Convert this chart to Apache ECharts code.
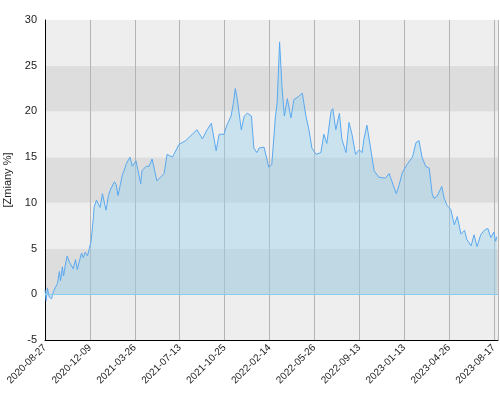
<!DOCTYPE html><html><head><meta charset="utf-8">
<script src="https://cdn.jsdelivr.net/npm/echarts@6/dist/echarts.min.js"></script>
<style>html,body{margin:0;padding:0;background:#fff}#c{width:500px;height:400px}</style></head><body><div id="c"></div>
<script>
const tickLabels=['2020-08-27','2020-12-09','2021-03-26','2021-07-13','2021-10-25','2022-02-14','2022-05-26','2022-09-13','2023-01-13','2023-04-26','2023-08-17'];
const days=[0,2,4,7,11,14,17,21,24,26,29,31,34,37,41,44,47,51,54,57,61,64,67,71,74,77,81,82,86,89,92,96,99,102,106,109,112,116,119,122,126,129,132,136,139,142,146,152,160,162,169,174,179,187,199,204,213,224,235,246,254,263,271,278,286,291,299,304,311,315,318,321,328,333,338,345,349,354,358,366,374,379,385,388,392,396,400,405,411,416,423,430,436,441,446,453,461,466,471,478,481,486,492,496,503,508,513,519,525,530,533,538,544,550,558,569,575,580,587,592,597,605,614,620,625,630,636,642,647,650,655,663,667,672,678,684,689,695,701,705,712,717,722,728,734,740,745,750,753,755];
const values=[0.5,-0.7,0.7,-0.3,-0.5,0.3,0.7,1.2,2.5,1.5,3,2,3.2,4.2,3.5,3.6,2.8,3.8,2.7,3.5,4.5,4.0,4.6,4.2,5.0,5.8,8.5,9.5,10.3,10.5,9.5,11,11.2,9.2,10.8,11.4,11.5,12.3,12.0,10.8,12,13,13.5,14.3,14.5,15,14,14.6,12.1,13.5,14,14,14.8,12.4,13.2,15.3,15,16.4,16.8,17.5,18,17,18,18.7,15.7,17.5,17.5,18.5,19.5,21,22.5,21.5,18,19.5,19.8,19.5,16,15.5,16,16.1,13.9,14.2,19.4,21,27.6,22.7,19.5,21.4,19.3,21.3,21.6,22,19.5,18,16,15.3,15.5,17.5,16.5,20,20.3,18,19.8,17,15.5,18.8,17.5,15.3,15.8,15.5,17,18.5,16,13.5,12.8,12.7,13.2,12.3,11,12,13.3,14.2,15,16.6,16.8,15,14,13.8,11,10.5,10.7,11.8,10.5,9.7,9.3,7.6,8.5,6.6,7.0,6.0,5.3,6.5,5.2,6.5,7.0,7.2,6.2,6.8,5.8,6.3];
const data=days.map((d,i)=>[d,values[i]]);
const chart=echarts.init(document.getElementById('c'));
chart.setOption({
 animation:false,
 grid:{left:45,right:2,top:20,bottom:60,containLabel:false,outerBoundsMode:'none'},
 xAxis:{type:'value',min:0,max:757,interval:75,
  axisLine:{show:true,onZero:false,lineStyle:{color:'#000'}},axisTick:{show:false},
  splitLine:{show:true,lineStyle:{color:'#b4b4b4',width:1}},
  axisLabel:{rotate:45,fontSize:10,color:'#222',margin:6,showMaxLabel:false,formatter:v=>tickLabels[Math.round(v/75)]||''}},
 yAxis:{type:'value',min:-5,max:30,interval:5,name:'[Zmiany %]',nameLocation:'middle',nameGap:28,nameTextStyle:{fontSize:11,color:'#222'},
  axisLine:{show:true,lineStyle:{color:'#000'}},axisTick:{show:false},
  axisLabel:{fontSize:11,color:'#222'},
  splitLine:{show:false},splitArea:{show:true,areaStyle:{color:['#eeeeee','#dddddd']}}},
 series:[{type:'line',data:data,symbol:'none',lineStyle:{color:'#5aa9f0',width:1},
  areaStyle:{color:'rgba(150,210,235,0.6)',origin:0},
  markLine:{silent:true,symbol:'none',label:{show:false},lineStyle:{color:'#87ceeb',type:'solid',width:1},data:[{yAxis:0}]}}]
});
</script></body></html>
